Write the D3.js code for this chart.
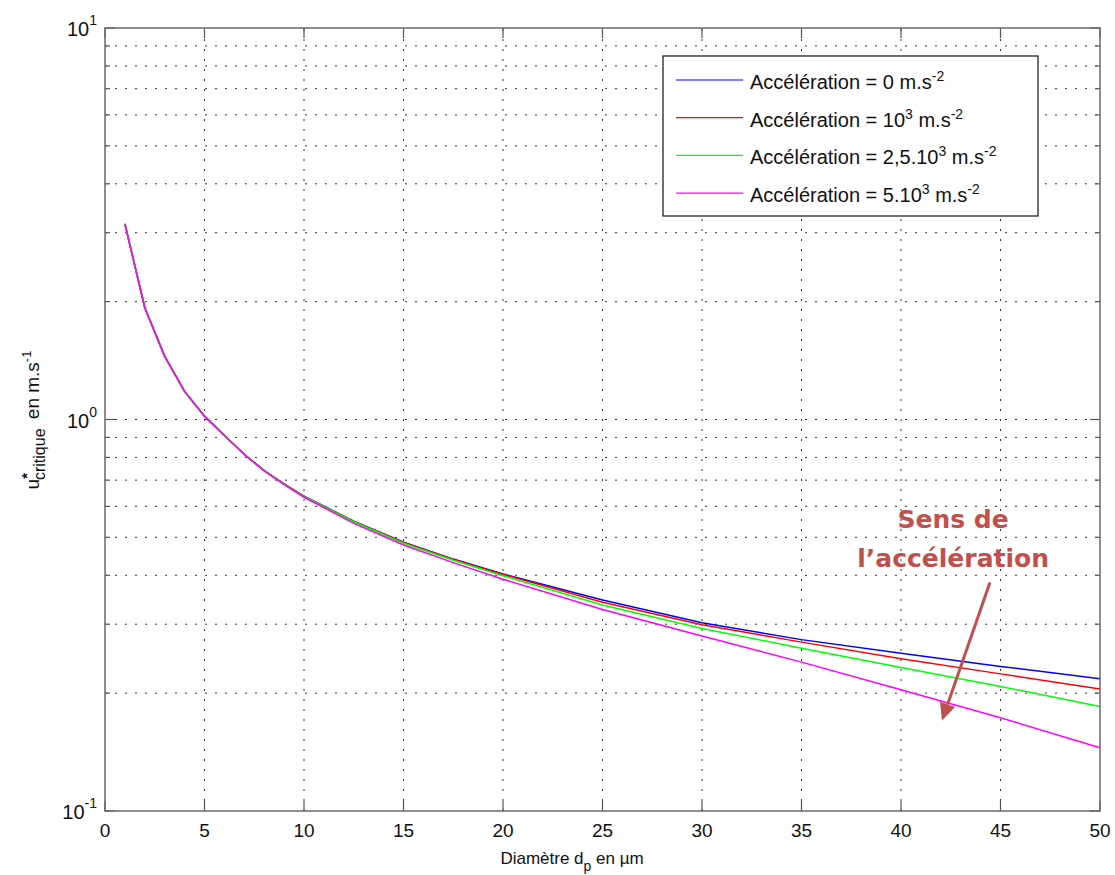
<!DOCTYPE html>
<html>
<head>
<meta charset="utf-8">
<script src="https://cdn.jsdelivr.net/npm/d3@7"></script>
<style>
  html, body { margin: 0; padding: 0; background: #fff; }
  svg { display: block; font-family: "Liberation Sans", Arial, sans-serif; }
</style>
</head>
<body>
<svg id="chart" width="1115" height="875"></svg>
<script>
// ---- Data ----
const diameters = [1, 2, 3, 4, 5, 6, 7, 8, 9, 10, 12.5, 15, 17.5, 20, 25, 30, 35, 40, 45, 50];
const accel0    = [3.16, 1.93, 1.45, 1.18, 1.02, 0.91, 0.815, 0.74, 0.685, 0.637, 0.550, 0.486, 0.440, 0.403, 0.346, 0.3025, 0.274, 0.253, 0.234, 0.2177];
const accel1e3  = [3.16, 1.93, 1.45, 1.18, 1.02, 0.91, 0.815, 0.74, 0.685, 0.637, 0.549, 0.485, 0.439, 0.402, 0.3415, 0.299, 0.270, 0.245, 0.224, 0.205];
const accel25e3 = [3.16, 1.93, 1.45, 1.18, 1.02, 0.91, 0.815, 0.74, 0.684, 0.636, 0.548, 0.483, 0.437, 0.399, 0.336, 0.2925, 0.2606, 0.2325, 0.208, 0.185];
const accel5e3  = [3.16, 1.93, 1.45, 1.18, 1.02, 0.91, 0.814, 0.739, 0.682, 0.633, 0.543, 0.478, 0.431, 0.391, 0.327, 0.280, 0.240, 0.204, 0.173, 0.145];

const seriesNames = ["0", "10^3", "2,5.10^3", "5.10^3"];
const seriesColors = ["#0000ff", "#ff0000", "#00ff00", "#ff00ff"];
const seriesValues = [accel0, accel1e3, accel25e3, accel5e3];

const xTicks = [0, 5, 10, 15, 20, 25, 30, 35, 40, 45, 50];
const yMajorTicks = [0.1, 1, 10];
const yMajorExp = ["-1", "0", "1"];
const yMinorTicks = [0.2, 0.3, 0.4, 0.5, 0.6, 0.7, 0.8, 0.9, 2, 3, 4, 5, 6, 7, 8, 9];

// annotation (in data coordinates)
const arrowFrom = [44.47, 0.3835];
const arrowTo = [42.06, 0.1703];
const annotLines = ["Sens de", "l\u2019accélération"];
const annotX = 42.62;
const annotY = [0.527, 0.4188];

// ---- Layout ----
const L = 105, R = 1100, T = 28, B = 811;
const svg = d3.select("#chart");
const x = d3.scaleLinear().domain([0, 50]).range([L, R]);
const y = d3.scaleLog().domain([0.1, 10]).range([B, T]);

// grid
const grid = svg.append("g").attr("stroke", "#333").attr("stroke-width", 1).attr("stroke-dasharray", "2,8");
grid.selectAll(".gx").data(xTicks.filter(d => d > 0 && d < 50)).enter().append("line")
  .attr("x1", d => x(d)).attr("x2", d => x(d)).attr("y1", B).attr("y2", T);
grid.selectAll(".gy").data(yMinorTicks.concat([1])).enter().append("line")
  .attr("y1", d => y(d)).attr("y2", d => y(d)).attr("x1", L).attr("x2", R);

// ticks (inward, all four sides)
const tk = svg.append("g").attr("stroke", "#555").attr("stroke-width", 1.2);
xTicks.forEach(d => {
  tk.append("line").attr("x1", x(d)).attr("x2", x(d)).attr("y1", B).attr("y2", B - 10);
  tk.append("line").attr("x1", x(d)).attr("x2", x(d)).attr("y1", T).attr("y2", T + 10);
});
yMajorTicks.forEach(d => {
  tk.append("line").attr("x1", L).attr("x2", L + 10).attr("y1", y(d)).attr("y2", y(d));
  tk.append("line").attr("x1", R).attr("x2", R - 10).attr("y1", y(d)).attr("y2", y(d));
});
yMinorTicks.forEach(d => {
  tk.append("line").attr("x1", L).attr("x2", L + 5).attr("y1", y(d)).attr("y2", y(d));
  tk.append("line").attr("x1", R).attr("x2", R - 5).attr("y1", y(d)).attr("y2", y(d));
});

// series
const line = d3.line().x(d => x(d[0])).y(d => y(d[1]));
seriesValues.forEach((vals, i) => {
  svg.append("path")
    .datum(diameters.map((d, j) => [d, vals[j]]))
    .attr("fill", "none")
    .attr("stroke", seriesColors[i])
    .attr("stroke-width", 1.5)
    .attr("d", line);
});

// frame
svg.append("rect").attr("x", L).attr("y", T).attr("width", R - L).attr("height", B - T)
  .attr("fill", "none").attr("stroke", "#6a6a6a").attr("stroke-width", 1.5);

// x tick labels
svg.append("g").selectAll("text").data(xTicks).enter().append("text")
  .attr("x", d => x(d)).attr("y", B + 26)
  .attr("text-anchor", "middle").attr("font-size", 19).attr("fill", "#111")
  .text(d => d);

// y tick labels
yMajorTicks.forEach((d, i) => {
  const t = svg.append("text").attr("x", 97).attr("y", y(d) + 8)
    .attr("text-anchor", "end").attr("fill", "#111").attr("font-size", 20);
  t.append("tspan").text("10");
  t.append("tspan").attr("font-size", 14).attr("dy", -11).text(yMajorExp[i]);
});

// x axis label
const xl = svg.append("text").attr("x", 572).attr("y", 864).attr("text-anchor", "middle")
  .attr("font-size", 17).attr("fill", "#111");
xl.append("tspan").text("Diamètre d");
xl.append("tspan").attr("font-size", 14).attr("dy", 7).text("p");
xl.append("tspan").attr("dy", -7).text(" en µm");

// y axis label
const yl = svg.append("text").attr("transform", "translate(39,420) rotate(-90)")
  .attr("text-anchor", "middle").attr("font-size", 19).attr("fill", "#111");
yl.append("tspan").text("u");
yl.append("tspan").attr("font-size", 15).attr("font-weight", "bold").attr("dy", -7).text("*");
yl.append("tspan").attr("font-size", 16).attr("dx", -7).attr("dy", 13).text("critique");
yl.append("tspan").attr("dy", -6).attr("dx", 4).text(" en m.s");
yl.append("tspan").attr("font-size", 13).attr("dy", -8).text("-1");

// legend
const lg = svg.append("g").attr("transform", `translate(${R - 437},${T + 28})`);
lg.append("rect").attr("x", 0).attr("y", 0).attr("width", 375).attr("height", 160)
  .attr("fill", "#fff").attr("stroke", "#111").attr("stroke-width", 1.2);
seriesNames.forEach((name, i) => {
  const yy = 24 + i * 37.7;
  lg.append("line").attr("x1", 13).attr("x2", 80).attr("y1", yy).attr("y2", yy)
    .attr("stroke", seriesColors[i]).attr("stroke-width", 1.2);
  const t = lg.append("text").attr("x", 87).attr("y", yy + 9).attr("font-size", 20).attr("fill", "#111");
  const parts = name.split("^");
  t.append("tspan").text("Accélération = " + parts[0]);
  if (parts.length > 1) {
    t.append("tspan").attr("font-size", 14).attr("dy", -8).text(parts[1]);
    t.append("tspan").attr("dy", 8).text(" m.s");
  } else {
    t.append("tspan").text(" m.s");
  }
  t.append("tspan").attr("font-size", 14).attr("dy", -8).text("-2");
});

// annotation
const ac = "#c0504d";
const x0 = x(arrowFrom[0]), y0 = y(arrowFrom[1]);
const x1 = x(arrowTo[0]), y1 = y(arrowTo[1]);
const ang = Math.atan2(y1 - y0, x1 - x0);
const hl = 17, hw = 8;
const bx = x1 - hl * Math.cos(ang), by = y1 - hl * Math.sin(ang);
svg.append("line").attr("x1", x0).attr("y1", y0).attr("x2", bx).attr("y2", by)
  .attr("stroke", ac).attr("stroke-width", 3);
svg.append("polygon")
  .attr("points", [
    [x1, y1],
    [bx + hw * Math.sin(ang), by - hw * Math.cos(ang)],
    [bx - hw * Math.sin(ang), by + hw * Math.cos(ang)]
  ].map(p => p.join(",")).join(" "))
  .attr("fill", ac);
annotLines.forEach((s, i) => {
  svg.append("text").attr("x", x(annotX)).attr("y", y(annotY[i]))
    .attr("text-anchor", "middle").attr("font-family", "'DejaVu Sans', sans-serif")
    .attr("font-weight", "bold").attr("font-size", 25).attr("fill", ac).text(s);
});
</script>
</body>
</html>
